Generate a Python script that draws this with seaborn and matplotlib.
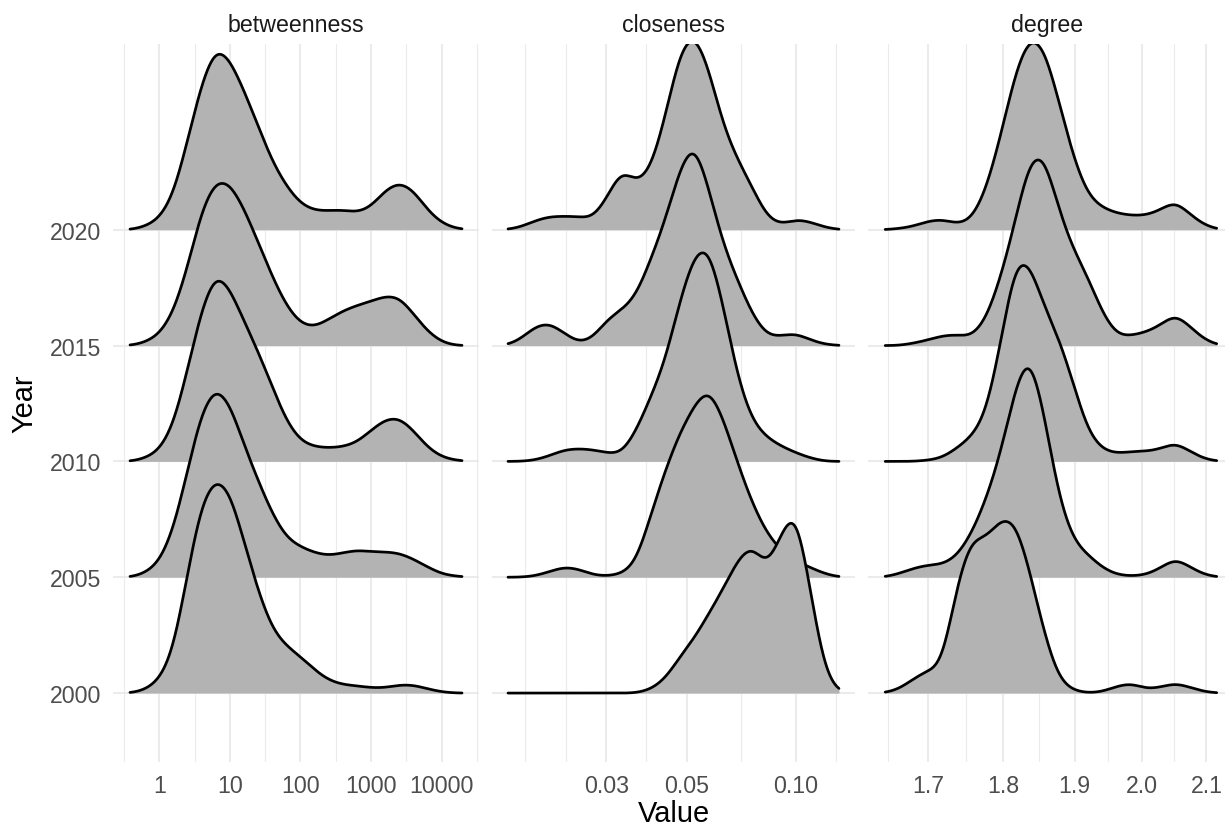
import numpy as np
import matplotlib
matplotlib.use("Agg")
import matplotlib.pyplot as plt
from matplotlib.ticker import FixedLocator, FixedFormatter, NullLocator
import seaborn as sns
from seaborn._statistics import KDE

# ---------------------------------------------------------------- data
years = [2000, 2005, 2010, 2015, 2020]
measures = ["betweenness", "closeness", "degree"]

# binned node values (log-spaced bins) and node counts per bin, per year
betweenness_bins = [0.3981, 0.6310, 1.0, 1.585, 2.512, 3.981, 6.310, 10.0,
                    15.85, 25.12, 39.81, 63.10, 100.0, 158.5, 251.2, 398.1,
                    631.0, 1000.0, 1585.0, 2512.0, 3981.0, 6310.0, 10000.0, 15850.0]
betweenness_counts = {
    2000: [0, 3, 12, 38, 115, 185, 208, 195, 145, 97, 60, 45, 35, 22, 12, 8, 7, 5, 5, 8, 8, 4, 1, 0],
    2005: [0, 4, 14, 45, 105, 165, 190, 172, 130, 95, 62, 38, 30, 24, 21, 24, 27, 25, 25, 24, 18, 10, 3, 1],
    2010: [0, 3, 10, 33, 88, 148, 185, 167, 135, 106, 72, 38, 19, 14, 13, 14, 18, 30, 41, 43, 30, 13, 4, 1],
    2015: [0, 3, 10, 30, 73, 130, 158, 155, 130, 98, 65, 37, 20, 17, 25, 33, 38, 42, 47, 47, 30, 13, 3, 0],
    2020: [0, 3, 10, 31, 84, 140, 176, 162, 132, 98, 64, 41, 24, 18, 18, 19, 16, 21, 38, 46, 38, 18, 6, 1],
}

closeness_bins = [0.01585, 0.01738, 0.01905, 0.02089, 0.02291, 0.02512, 0.02754, 0.03020,
                  0.03311, 0.03631, 0.03981, 0.04365, 0.04786, 0.05248, 0.05754, 0.06310,
                  0.06918, 0.07586, 0.08318, 0.09120, 0.10000, 0.10965, 0.12023, 0.13183]
closeness_counts = {
    2000: [0, 0, 0, 0, 0, 0, 0, 0, 0, 0, 3, 12, 32, 48, 70, 92, 118, 134, 106, 141, 170, 89, 14, 0],
    2005: [0, 0, 1, 5, 10, 8, 2, 1, 3, 12, 58, 100, 135, 160, 180, 148, 105, 68, 40, 24, 15, 9, 3, 0],
    2010: [0, 0, 1, 5, 11, 12, 11, 8, 6, 28, 60, 92, 150, 195, 205, 145, 75, 36, 22, 14, 8, 3, 0, 0],
    2015: [0, 5, 18, 22, 12, 2, 6, 25, 33, 45, 80, 115, 165, 195, 145, 92, 60, 28, 8, 9, 12, 5, 1, 0],
    2020: [0, 2, 8, 12, 12, 12, 9, 28, 58, 40, 52, 100, 162, 180, 145, 91, 62, 38, 10, 4, 10, 7, 2, 0],
}

degree_bins = [1.6444, 1.6627, 1.6811, 1.6998, 1.7187, 1.7378, 1.7571, 1.7766,
               1.7963, 1.8163, 1.8364, 1.8568, 1.8775, 1.8983, 1.9194, 1.9407,
               1.9623, 1.9841, 2.0061, 2.0284, 2.0509, 2.0737, 2.0967, 2.1200]
degree_counts = {
    2000: [0, 3, 12, 20, 20, 95, 135, 130, 150, 150, 105, 50, 10, 2, 0, 1, 6, 9, 3, 5, 9, 5, 1, 0],
    2005: [0, 3, 8, 11, 11, 18, 38, 68, 108, 168, 205, 145, 68, 31, 20, 8, 2, 1, 2, 8, 18, 9, 2, 0],
    2010: [0, 0, 0, 1, 3, 12, 22, 40, 105, 185, 180, 138, 112, 70, 25, 10, 7, 9, 9, 11, 18, 9, 2, 0],
    2015: [0, 0, 2, 5, 9, 10, 7, 22, 60, 110, 170, 175, 120, 85, 62, 28, 8, 9, 12, 18, 30, 17, 5, 0],
    2020: [0, 1, 3, 8, 10, 5, 8, 35, 85, 145, 180, 170, 118, 65, 30, 20, 15, 13, 13, 18, 28, 14, 4, 0],
}

bins = {"betweenness": betweenness_bins, "closeness": closeness_bins, "degree": degree_bins}
counts = {"betweenness": betweenness_counts, "closeness": closeness_counts, "degree": degree_counts}

# axis breaks and labels
major_breaks = {
    "betweenness": [1, 10, 100, 1000, 10000],
    "closeness": [0.03, 0.05, 0.10],
    "degree": [1.7, 1.8, 1.9, 2.0, 2.1],
}
major_labels = {
    "betweenness": ["1", "10", "100", "1000", "10000"],
    "closeness": ["0.03", "0.05", "0.10"],
    "degree": ["1.7", "1.8", "1.9", "2.0", "2.1"],
}
minor_breaks = {
    "betweenness": [0.3162, 3.162, 31.62, 316.2, 3162, 31623],
    "closeness": [0.01793, 0.02325, 0.03873, 0.07071, 0.1291],
    "degree": [1.6492, 1.7493, 1.8493, 1.9494, 2.0494],
}

# ------------------------------------------------------------ settings
kde_bw = {"betweenness": 0.14, "closeness": 0.028, "degree": 0.00336}      # log10 units
support_log = {"betweenness": (-0.415, 4.288),
               "closeness": (-1.7933, -0.8815),
               "degree": (0.21634, 0.32561)}
xlim_log = {"betweenness": (-0.6501, 4.5227),
            "closeness": (-1.83874, -0.83599),
            "degree": (0.210807, 0.328342)}
panel_px = {"betweenness": (113.4, 478.6),
            "closeness": (491.5, 855.5),
            "degree": (868.4, 1225.0)}
W, H = 1225, 829
top_px, bottom_px = 45, 763
ridge_scale = 1.8
year_step = 5

sns.set_theme(style="white")
plt.rcParams["font.family"] = ["Liberation Sans", "DejaVu Sans"]

FILL = "#B3B3B3"
GRID = "#EBEBEB"
TICK = "#4D4D4D"
STRIP = "#1A1A1A"


def ridge_density(values, weights, bw, support):
    logv = np.log10(np.asarray(values, float))
    w = np.asarray(weights, float)
    sd = np.sqrt(np.cov(logv, aweights=w))
    kde = KDE(bw_method=bw / sd)
    kde.support = support
    dens, _ = kde(logv, weights=w)
    return dens


fig = plt.figure(figsize=(W / 100, H / 100), dpi=100)

for k, m in enumerate(measures):
    x0, x1 = panel_px[m]
    ax = fig.add_axes([x0 / W, 1 - bottom_px / H, (x1 - x0) / W, (bottom_px - top_px) / H])
    ax.set_xscale("log")
    ax.set_xlim(10 ** xlim_log[m][0], 10 ** xlim_log[m][1])
    ax.set_ylim(2000 - 0.595 * year_step, 2020 + 1.6034 * year_step)

    sup = np.linspace(support_log[m][0], support_log[m][1], 600)
    dens = {y: ridge_density(bins[m], counts[m][y], kde_bw[m], sup) for y in years}
    peak = max(d.max() for d in dens.values())
    xs = 10 ** sup

    # back ridges first so lower years overlap the ones above
    for i, y in enumerate(reversed(years)):
        top = y + dens[y] / peak * ridge_scale * year_step
        ax.fill_between(xs, y, top, color=FILL, lw=0, zorder=3 + 2 * i)
        sns.lineplot(x=xs, y=top, ax=ax, color="black", linewidth=1.95,
                     estimator=None, sort=False, zorder=4 + 2 * i)

    ax.xaxis.set_major_locator(FixedLocator(major_breaks[m]))
    ax.xaxis.set_major_formatter(FixedFormatter(major_labels[m]))
    ax.xaxis.set_minor_locator(FixedLocator(minor_breaks[m]))
    ax.xaxis.set_minor_formatter(FixedFormatter([""] * len(minor_breaks[m])))
    ax.yaxis.set_major_locator(FixedLocator(years))
    ax.yaxis.set_minor_locator(NullLocator())
    ax.grid(which="major", color=GRID, linewidth=1.45, zorder=0)
    ax.grid(which="minor", axis="x", color=GRID, linewidth=0.8, zorder=0)
    ax.set_axisbelow(True)
    for s in ax.spines.values():
        s.set_visible(False)
    ax.tick_params(which="both", length=0, labelsize=16.7, labelcolor=TICK)
    ax.tick_params(axis="x", pad=9)
    ax.tick_params(axis="y", pad=9)
    if k == 0:
        ax.set_yticklabels([str(y) for y in years])
    else:
        ax.tick_params(labelleft=False)
    ax.set_xlabel("")
    ax.set_ylabel("")
    ax.set_title(m, fontsize=16.7, color=STRIP, pad=9.5)

fig.text(673.5 / W, 0.5 / H, "Value", ha="center", va="bottom", fontsize=20.9, color="black")
fig.text(24 / W, 1 - 404 / H, "Year", ha="center", va="center", rotation=90,
         fontsize=20.9, color="black")

fig.savefig("out.png", dpi=100, facecolor="white")
